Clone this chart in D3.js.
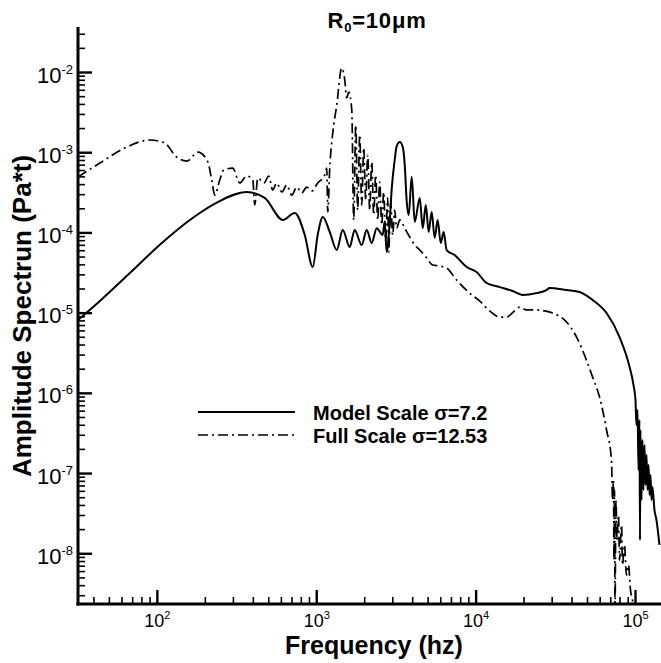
<!DOCTYPE html>
<html>
<head>
<meta charset="utf-8">
<script src="https://cdn.jsdelivr.net/npm/d3@7"></script>
<style>
  body { margin: 0; background: #fff; }
  svg { display: block; }
  text { font-family: "Liberation Sans", Arial, Helvetica, sans-serif; fill: #000; }
</style>
</head>
<body>
<svg id="chart" width="661" height="663"></svg>
<script>
// Amplitude spectrum, model scale (sigma = 7.2)
const modelFreq = [32, 43.9, 67.7, 104, 161, 241, 366, 475, 617, 733, 847, 951, 1021, 1100, 1216, 1345, 1466, 1622, 1742, 1928,
  2073, 2228, 2396, 2611, 2685, 2767, 2891, 2972, 3107, 3197, 3342, 3492, 3592, 3690, 3802, 3973, 4150, 4460, 4660, 4866, 5075, 5300, 5535, 5780,
  6040, 6300, 6580, 7380, 8790, 10140, 11720, 14140, 17050, 19700, 24100, 27800, 29100, 37200, 44900, 54200, 66300, 80000, 92500, 97900,
  100700, 102100, 103700, 105200, 106700, 107500, 108200, 109900, 111400, 113000, 114700, 116400, 118100, 119800, 121600, 123400,
  125100, 126900, 128700, 132500, 136400, 142400];
const modelAmp = [8.09e-6, 1.40e-5, 3.12e-5, 6.97e-5, 1.43e-4, 2.39e-4, 3.19e-4, 2.69e-4, 1.43e-4, 1.75e-4, 9.29e-5, 3.70e-5, 9.29e-5, 1.56e-4, 1.01e-4, 6.03e-5, 1.07e-4, 6.58e-5, 1.07e-4, 6.97e-5,
  1.07e-4, 7.38e-5, 1.13e-4, 9.29e-5, 1.35e-4, 5.70e-5, 1.35e-4, 3.38e-4, 8.00e-4, 1.19e-3, 1.34e-3, 1.16e-3, 6.92e-4, 2.54e-4, 1.65e-4, 4.91e-4, 1.35e-4, 2.69e-4, 1.13e-4, 2.20e-4, 1.01e-4, 1.80e-4, 8.51e-5, 1.43e-4,
  7.38e-5, 1.01e-4, 6.03e-5, 5.22e-5, 3.70e-5, 3.21e-5, 2.34e-5, 2.08e-5, 1.86e-5, 1.66e-5, 1.75e-5, 1.91e-5, 2.03e-5, 1.91e-5, 1.81e-5, 1.44e-5, 9.89e-6, 4.96e-6, 2.10e-6, 1.25e-6,
  8.13e-7, 3.97e-7, 6.10e-7, 1.09e-7, 4.58e-7, 1.46e-8, 3.44e-7, 4.61e-8, 2.58e-7, 6.14e-8, 2.23e-7, 7.08e-8, 1.68e-7, 6.14e-8, 1.26e-7, 5.32e-8,
  9.44e-8, 4.61e-8, 6.69e-8, 3.46e-8, 2.59e-8, 1.27e-8];

// Amplitude spectrum, full scale (sigma = 12.53)
const fullFreq = [32, 43.9, 63.0, 90.4, 112, 133, 154, 181, 209, 221, 231, 248, 263, 299, 331, 366, 400, 411, 430, 469,
  504, 533, 565, 608, 653, 702, 755, 811, 871, 937, 1022, 1130, 1164, 1181, 1216, 1269, 1345, 1445, 1510, 1553,
  1600, 1671, 1718, 1770, 1820, 1874, 1929, 1985, 2044, 2104, 2165, 2229, 2294, 2361, 2431, 2502, 2575, 2651, 2728, 2808,
  2849, 2932, 3018, 3106, 3197, 3342, 3592, 3858, 4150, 4460, 4930, 5375, 5940, 6580, 7600, 9170, 10590, 12240, 14140, 15640,
  17560, 18890, 20890, 23450, 27100, 30400, 37200, 43000, 49600, 54200, 59900, 66300, 71200,
  72300, 73300, 73800, 74400, 74900, 76000, 77100, 78800, 80000, 82300, 83500, 85900, 88400, 91000, 93700, 96400, 100700];
const fullAmp = [4.91e-4, 7.33e-4, 1.13e-3, 1.42e-3, 1.30e-3, 8.71e-4, 7.76e-4, 1.00e-3, 7.55e-4, 4.50e-4, 2.92e-4, 4.50e-4, 6.00e-4, 6.35e-4, 4.13e-4, 5.05e-4, 4.50e-4, 2.20e-4, 4.77e-4, 4.13e-4,
  5.05e-4, 3.38e-4, 4.13e-4, 3.19e-4, 3.90e-4, 2.92e-4, 3.68e-4, 3.10e-4, 3.68e-4, 3.28e-4, 4.13e-4, 5.20e-4, 6.35e-4, 1.80e-4, 6.53e-4, 1.73e-3, 3.88e-3, 1.12e-2, 7.94e-3, 4.74e-3,
  5.63e-3, 3.36e-3, 1.43e-4, 2.18e-3, 1.90e-4, 1.64e-3, 2.20e-4, 1.13e-3, 2.54e-4, 9.23e-4, 1.90e-4, 7.55e-4, 1.65e-4, 5.20e-4, 1.43e-4, 4.25e-4, 1.24e-4, 3.19e-4, 8.04e-5, 2.69e-4,
  5.70e-5, 2.33e-4, 9.29e-5, 1.90e-4, 1.13e-4, 1.43e-4, 1.13e-4, 8.77e-5, 6.97e-5, 6.03e-5, 4.80e-5, 3.92e-5, 3.81e-5, 3.60e-5, 2.55e-5, 1.75e-5, 1.40e-5, 1.05e-5, 8.81e-6, 8.81e-6,
  1.05e-5, 1.17e-5, 1.08e-5, 1.08e-5, 1.05e-5, 9.89e-6, 7.64e-6, 4.96e-6, 2.56e-6, 1.57e-6, 8.87e-7, 3.44e-7, 1.45e-7,
  4.61e-8, 8.18e-8, 8.22e-9, 6.14e-8, 1.96e-9, 4.61e-8, 1.46e-8, 2.99e-8, 8.22e-9, 2.25e-8, 7.13e-9, 1.27e-8, 5.35e-9, 7.13e-9, 3.48e-9, 2.61e-9, 1.69e-9];

// Axis ticks and labels
const xMajorTicks = [1e2, 1e3, 1e4, 1e5];
const xTickExponents = ["2", "3", "4", "5"];
const yMajorTicks = [1e-8, 1e-7, 1e-6, 1e-5, 1e-4, 1e-3, 1e-2];
const yTickExponents = ["-8", "-7", "-6", "-5", "-4", "-3", "-2"];
const seriesNames = ["Model Scale \u03c3=7.2", "Full Scale \u03c3=12.53"];

const svg = d3.select("#chart");
const plotLeft = 78, plotRight = 661, plotTop = 27, plotBottom = 604;

const x = d3.scaleLog().domain([32, 145600]).range([plotLeft, plotRight]);
const y = d3.scaleLog().domain([2.33e-9, 0.0364]).range([plotBottom, plotTop]);

// minor ticks: 2..9 times each decade inside the domain
const isMajor = v => Math.abs(Math.log10(v) - Math.round(Math.log10(v))) < 1e-9;
const xMinor = x.ticks(40).filter(v => !isMajor(v) && v >= x.domain()[0] && v <= x.domain()[1]);
const yMinor = y.ticks(60).filter(v => !isMajor(v) && v >= y.domain()[0] && v <= y.domain()[1]);

// clip region for the curves
svg.append("defs").append("clipPath").attr("id", "plotClip")
  .append("rect").attr("x", plotLeft).attr("y", plotTop)
  .attr("width", plotRight - plotLeft).attr("height", plotBottom - plotTop);

// curves
const line = d3.line().x(d => x(d[0])).y(d => y(d[1])).curve(d3.curveMonotoneX);
const modelData = modelFreq.map((f, i) => [f, modelAmp[i]]);
const fullData = fullFreq.map((f, i) => [f, fullAmp[i]]);

const curves = svg.append("g").attr("clip-path", "url(#plotClip)");
curves.append("path").datum(modelData).attr("d", line)
  .attr("fill", "none").attr("stroke", "#000").attr("stroke-width", 2).attr("stroke-linejoin", "round");
curves.append("path").datum(fullData).attr("d", line)
  .attr("fill", "none").attr("stroke", "#000").attr("stroke-width", 1.7)
  .attr("stroke-dasharray", "10,4,2,4").attr("stroke-linejoin", "round");

// axes
function styleAxis(g, w) {
  g.selectAll(".tick line").attr("stroke", "#000").attr("stroke-width", w);
  g.select(".domain").remove();
}
svg.append("g").attr("transform", `translate(0,${plotBottom})`)
  .call(d3.axisBottom(x).tickValues(xMinor).tickSize(-7).tickFormat(""))
  .call(g => styleAxis(g, 1.6));
const xMajG = svg.append("g").attr("transform", `translate(0,${plotBottom})`)
  .call(d3.axisBottom(x).tickValues(xMajorTicks).tickSize(-14).tickFormat(""))
  .call(g => styleAxis(g, 2.4));
svg.append("g").attr("transform", `translate(${plotLeft},0)`)
  .call(d3.axisLeft(y).tickValues(yMinor).tickSize(-7).tickFormat(""))
  .call(g => styleAxis(g, 1.6));
const yMajG = svg.append("g").attr("transform", `translate(${plotLeft},0)`)
  .call(d3.axisLeft(y).tickValues(yMajorTicks).tickSize(-14).tickFormat(""))
  .call(g => styleAxis(g, 2.4));

// axis lines
svg.append("line").attr("x1", plotLeft).attr("x2", plotLeft).attr("y1", plotTop).attr("y2", plotBottom + 1.5)
  .attr("stroke", "#000").attr("stroke-width", 3);
svg.append("line").attr("x1", plotLeft - 1.5).attr("x2", plotRight).attr("y1", plotBottom).attr("y2", plotBottom)
  .attr("stroke", "#000").attr("stroke-width", 3);

// power-of-ten tick labels
xMajG.selectAll(".tick").each(function (d) {
  const t = d3.select(this).append("text").attr("y", 23).attr("text-anchor", "middle")
    .attr("font-size", 18).attr("fill", "#000");
  t.append("tspan").text("10");
  t.append("tspan").attr("dy", -8).attr("font-size", 11).text(xTickExponents[xMajorTicks.indexOf(d)]);
});
yMajG.selectAll(".tick").each(function (d) {
  const t = d3.select(this).append("text").attr("x", -5).attr("y", 10).attr("text-anchor", "end")
    .attr("font-size", 22).attr("fill", "#000");
  t.append("tspan").text("10");
  t.append("tspan").attr("dy", -9).attr("font-size", 13).text(yTickExponents[yMajorTicks.indexOf(d)]);
});

// axis titles
svg.append("text").attr("x", 374).attr("y", 654).attr("text-anchor", "middle")
  .attr("font-size", 25).attr("font-weight", "bold").text("Frequency (hz)");
svg.append("text").attr("transform", "translate(31,316) rotate(-90)").attr("text-anchor", "middle")
  .attr("font-size", 26).attr("font-weight", "bold").text("Amplitude Spectrun (Pa*t)");

// title
const title = svg.append("text").attr("x", 377).attr("y", 28).attr("text-anchor", "middle")
  .attr("font-size", 22).attr("font-weight", "bold").attr("letter-spacing", 0.8);
title.append("tspan").text("R");
title.append("tspan").attr("dy", 4).attr("font-size", 13).text("0");
title.append("tspan").attr("dy", -4).text("=10\u03bcm");

// legend
const legend = svg.append("g");
const legendRows = [
  { name: seriesNames[0], y: 412, dash: null, w: 2 },
  { name: seriesNames[1], y: 435, dash: "10,4,2,4", w: 1.7 }
];
legendRows.forEach(r => {
  legend.append("line").attr("x1", 198).attr("x2", 295).attr("y1", r.y).attr("y2", r.y)
    .attr("stroke", "#000").attr("stroke-width", r.w).attr("stroke-dasharray", r.dash);
  legend.append("text").attr("x", 313).attr("y", r.y + 8).attr("font-size", 20)
    .attr("font-weight", "bold").text(r.name);
});
</script>
</body>
</html>
